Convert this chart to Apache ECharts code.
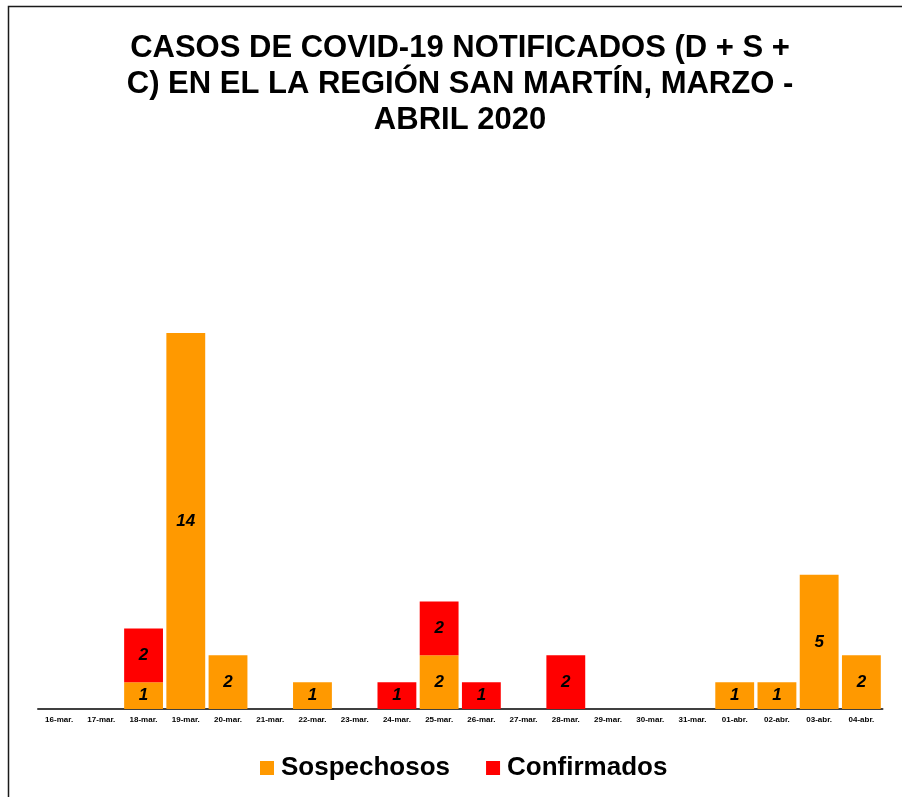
<!DOCTYPE html>
<html>
<head>
<meta charset="utf-8">
<script src="https://cdn.jsdelivr.net/npm/echarts@6/dist/echarts.min.js"></script>
<style>
  html, body { margin: 0; padding: 0; background: #fff; }
  #chart { width: 902px; height: 797px; }
</style>
</head>
<body>
<div id="chart"></div>
<script>
const dias = [
  '16-mar.', '17-mar.', '18-mar.', '19-mar.', '20-mar.', '21-mar.', '22-mar.',
  '23-mar.', '24-mar.', '25-mar.', '26-mar.', '27-mar.', '28-mar.', '29-mar.',
  '30-mar.', '31-mar.', '01-abr.', '02-abr.', '03-abr.', '04-abr.'
]
const sospechosos = [0, 0, 1, 14, 2, 0, 1, 0, 0, 2, 0, 0, 0, 0, 0, 0, 1, 1, 5, 2]
const confirmados = [0, 0, 2, 0, 0, 0, 0, 0, 1, 2, 1, 0, 2, 0, 0, 0, 0, 0, 0, 0]

const font = '"Liberation Sans", Arial, sans-serif'

const barLabel = {
  show: true,
  position: 'inside',
  color: '#000',
  fontFamily: font,
  fontSize: 17,
  fontWeight: 'bold',
  fontStyle: 'italic',
  formatter: (p) => (p.value ? p.value : '')
}

const chart = echarts.init(document.getElementById('chart'))
chart.setOption({
  backgroundColor: '#fff',
  animation: false,
  title: {
    text: 'CASOS DE COVID-19 NOTIFICADOS (D + S +\nC) EN EL LA REGIÓN SAN MARTÍN, MARZO -\nABRIL 2020',
    left: 460,
    top: 30,
    padding: 0,
    textAlign: 'center',
    textStyle: {
      fontFamily: font,
      fontSize: 31,
      fontWeight: 'bold',
      lineHeight: 36,
      color: '#000'
    }
  },
  legend: {
    left: 255,
    top: 750,
    itemWidth: 14,
    itemHeight: 14,
    itemGap: 36,
    icon: 'rect',
    textStyle: {
      fontFamily: font,
      fontSize: 26,
      fontWeight: 'bold',
      color: '#000',
      padding: [0, 0, 0, 2]
    }
  },
  grid: {
    left: 38,
    right: 19.5,
    top: 333,
    bottom: 88
  },
  xAxis: {
    type: 'category',
    data: dias,
    axisLine: { lineStyle: { color: '#404040', width: 2 } },
    axisTick: { show: false },
    axisLabel: {
      interval: 0,
      margin: 7,
      fontFamily: font,
      fontSize: 8,
      fontWeight: 'bold',
      color: '#000'
    }
  },
  yAxis: {
    type: 'value',
    min: 0,
    max: 14,
    show: false,
    splitLine: { show: false }
  },
  graphic: [
    {
      type: 'rect',
      shape: { x: 8.5, y: 6.5, width: 1000, height: 1000 },
      style: { fill: 'none', stroke: '#1a1a1a', lineWidth: 1.5 },
      silent: true
    }
  ],
  series: [
    {
      name: 'Sospechosos',
      type: 'bar',
      stack: 'casos',
      barCategoryGap: '8%',
      data: sospechosos,
      itemStyle: { color: '#FF9900' },
      label: barLabel
    },
    {
      name: 'Confirmados',
      type: 'bar',
      stack: 'casos',
      barCategoryGap: '8%',
      data: confirmados,
      itemStyle: { color: '#FF0000' },
      label: barLabel
    }
  ]
})
</script>
</body>
</html>
